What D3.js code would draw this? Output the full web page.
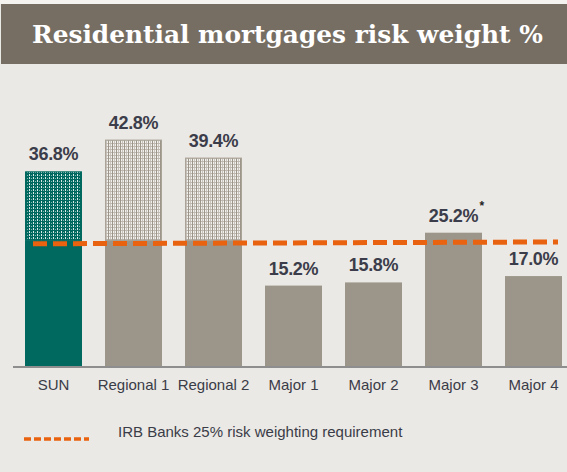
<!DOCTYPE html>
<html>
<head>
<meta charset="utf-8">
<script src="https://cdn.jsdelivr.net/npm/d3@7"></script>
<style>
  html, body { margin: 0; padding: 0; background: #EBE9E5; }
  svg { display: block; }
</style>
</head>
<body>
<svg id="chart" width="567" height="472"></svg>
<script>
// ---- data ----
const title = "Residential mortgages risk weight %";
const categories = ["SUN", "Regional 1", "Regional 2", "Major 1", "Major 2", "Major 3", "Major 4"];
const values = [36.8, 42.8, 39.4, 15.2, 15.8, 25.2, 17.0];
const valueLabels = ["36.8%", "42.8%", "39.4%", "15.2%", "15.8%", "25.2%", "17.0%"];
const labelNotes = ["", "", "", "", "", "*", ""];
// solid up to this value, hatched above (null = fully solid)
const hatchFrom = [23.8, 23.8, 23.8, null, null, null, null];
// requirement line as drawn (start, end)
const requirementLine = [23.1, 23.45];
const legendLabel = "IRB Banks 25% risk weighting requirement";

// ---- chart ----
const W = 567, H = 472;
const svg = d3.select("#chart");
const teal = "#00695F", gray = "#9C958A", orange = "#E8620F";
const barColors = [teal, gray, gray, gray, gray, gray, gray];

// background
svg.append("rect").attr("x", 0).attr("y", 0).attr("width", W).attr("height", H).attr("fill", "#EBE9E5");
svg.append("rect").attr("x", 0).attr("y", 0).attr("width", W).attr("height", 4).attr("fill", "#F4F3F0");

// title bar
svg.append("rect").attr("x", 1).attr("y", 4).attr("width", W - 1).attr("height", 60).attr("fill", "#766E63");
const t = svg.append("text")
  .attr("x", 32).attr("y", 43)
  .attr("font-family", "'DejaVu Serif', 'Liberation Serif', serif")
  .attr("font-weight", "bold")
  .attr("font-size", 25)
  .attr("fill", "#FFFFFF")
  .text(title);
const tw = t.node().getComputedTextLength();
t.attr("font-size", 25 * 511 / tw);

// patterns
const defs = svg.append("defs");
const pTeal = defs.append("pattern").attr("id", "hatchTeal").attr("patternUnits", "userSpaceOnUse")
  .attr("width", 4).attr("height", 3);
pTeal.append("rect").attr("width", 4).attr("height", 3).attr("fill", teal);
pTeal.append("rect").attr("x", 1).attr("y", 0).attr("width", 1).attr("height", 2).attr("fill", "#FFFFFF").attr("opacity", 0.85);
pTeal.append("rect").attr("x", 3).attr("y", 1).attr("width", 1).attr("height", 1).attr("fill", "#FFFFFF").attr("opacity", 0.5);

const pGray = defs.append("pattern").attr("id", "hatchGray").attr("patternUnits", "userSpaceOnUse")
  .attr("width", 4).attr("height", 3);
pGray.append("rect").attr("width", 4).attr("height", 3).attr("fill", "#F2F0EC");
pGray.append("rect").attr("x", 0).attr("y", 0).attr("width", 1).attr("height", 3).attr("fill", gray);
pGray.append("rect").attr("x", 0).attr("y", 2).attr("width", 4).attr("height", 1).attr("fill", gray).attr("opacity", 0.6);
pGray.append("rect").attr("x", 2).attr("y", 0).attr("width", 1).attr("height", 2).attr("fill", gray).attr("opacity", 0.5);

const x = d3.scaleBand().domain(categories).range([13.5, 573.5])
  .paddingInner(0.2875).paddingOuter(0.14375);
const y = d3.scaleLinear().domain([0, 50]).range([366, 101.5]);

const rows = categories.map((c, i) => ({
  c, v: values[i], label: valueLabels[i], note: labelNotes[i], h: hatchFrom[i], color: barColors[i], i
}));

const g = svg.append("g");
// solid part
g.selectAll("rect.solid").data(rows).join("rect")
  .attr("class", "solid")
  .attr("x", d => x(d.c)).attr("width", x.bandwidth())
  .attr("y", d => y(d.h == null ? d.v : d.h))
  .attr("height", d => y(0) - y(d.h == null ? d.v : d.h))
  .attr("fill", d => d.color);
// hatched part
g.selectAll("rect.hatch").data(rows.filter(d => d.h != null)).join("rect")
  .attr("class", "hatch")
  .attr("x", d => x(d.c) + 0.5).attr("width", x.bandwidth() - 1)
  .attr("y", d => y(d.v) + 0.5)
  .attr("height", d => y(d.h) - y(d.v) - 0.5)
  .attr("fill", d => d.i === 0 ? "url(#hatchTeal)" : "url(#hatchGray)")
  .attr("stroke", d => d.i === 0 ? teal : "#A9A398")
  .attr("stroke-width", 1);

// axis baseline
const xAxis = d3.axisBottom(x).tickSize(0).tickPadding(12);
const ax = svg.append("g").attr("transform", "translate(0,367)").call(xAxis);
ax.select(".domain").remove();
ax.append("line").attr("x1", 13).attr("x2", W).attr("y1", 0).attr("y2", 0)
  .attr("stroke", "#8E8E8E").attr("stroke-width", 2);
ax.selectAll(".tick text")
  .attr("font-family", "'Liberation Sans', Arial, sans-serif")
  .attr("font-size", 15)
  .attr("fill", "#3A3C48");

// value labels
g.selectAll("text.val").data(rows).join("text")
  .attr("class", "val")
  .attr("x", d => x(d.c) + x.bandwidth() / 2)
  .attr("y", d => y(d.v) - 11)
  .attr("text-anchor", "middle")
  .attr("font-family", "'Liberation Sans', Arial, sans-serif")
  .attr("font-weight", "bold")
  .attr("font-size", 18)
  .attr("letter-spacing", -0.3)
  .attr("fill", "#3B3D4A")
  .text(d => d.label);
// notes (asterisk)
g.selectAll("text.note").data(rows.filter(d => d.note)).join("text")
  .attr("class", "note")
  .attr("x", d => x(d.c) + x.bandwidth() / 2 + 26)
  .attr("y", d => y(d.v) - 23)
  .attr("font-family", "'Liberation Sans', Arial, sans-serif")
  .attr("font-weight", "bold")
  .attr("font-size", 12)
  .attr("fill", "#222")
  .text(d => d.note);

// requirement line
const lx = d3.scaleLinear().domain([0, 1]).range([33, 558]);
svg.append("line")
  .attr("x1", lx(0)).attr("x2", lx(1))
  .attr("y1", y(requirementLine[0])).attr("y2", y(requirementLine[1]))
  .attr("stroke", orange).attr("stroke-width", 5)
  .attr("stroke-dasharray", "14,6");

// legend
svg.append("line")
  .attr("x1", 24).attr("x2", 89).attr("y1", 439).attr("y2", 439)
  .attr("stroke", orange).attr("stroke-width", 3.5)
  .attr("stroke-dasharray", "7,3");
svg.append("text")
  .attr("x", 118).attr("y", 437)
  .attr("font-family", "'Liberation Sans', Arial, sans-serif")
  .attr("font-size", 15)
  .attr("fill", "#3A3C48")
  .text(legendLabel);
</script>
</body>
</html>
